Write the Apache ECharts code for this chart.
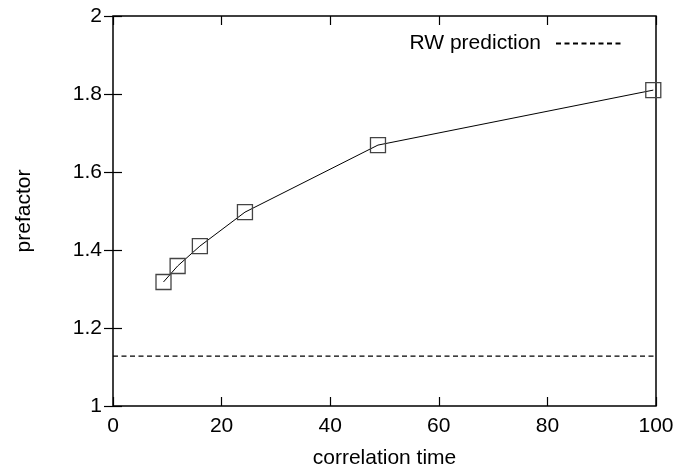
<!DOCTYPE html>
<html>
<head>
<meta charset="utf-8">
<script src="https://cdn.jsdelivr.net/npm/echarts@6/dist/echarts.min.js"></script>
<style>
  html, body { margin: 0; padding: 0; background: #fff; }
  #chart { width: 678px; height: 476px; }
</style>
</head>
<body>
<div id="chart"></div>
<script>
// correlation time vs prefactor
var corrTime = [9.3, 11.9, 16.0, 24.3, 48.8, 99.5];
var prefactor = [1.318, 1.359, 1.41, 1.497, 1.669, 1.81];
var rwPrediction = 1.128;
var xRange = [0, 100];

var font = "Liberation Sans";
var fs = 21;

var measured = corrTime.map(function (t, i) { return [t, prefactor[i]]; });
var rwLine = xRange.map(function (t) { return [t, rwPrediction]; });

var myChart = echarts.init(document.getElementById("chart"));

var baseX = {
  type: "value", min: 0, max: 100, interval: 20,
  axisLine: { show: false },
  axisTick: { inside: true, length: 9, lineStyle: { color: "#000", width: 1.2 } },
  splitLine: { show: false }
};
var baseY = {
  type: "value", min: 1, max: 2, interval: 0.2,
  axisLine: { show: false },
  axisTick: { inside: true, length: 9, lineStyle: { color: "#000", width: 1.2 } },
  splitLine: { show: false }
};

myChart.setOption({
  animation: false,
  grid: {
    left: 113, right: 22, top: 16, bottom: 70,
    show: true, borderColor: "#000", borderWidth: 1.5, backgroundColor: "transparent"
  },
  legend: {
    data: ["RW prediction"],
    right: 48, top: 28,
    align: "right",
    itemWidth: 68, itemHeight: 14,
    itemStyle: { opacity: 0 },
    textStyle: { fontFamily: font, fontSize: fs, color: "#000", padding: [0, 10, 0, 0] }
  },
  xAxis: [
    Object.assign({}, baseX, {
      position: "bottom",
      name: "correlation time", nameLocation: "middle", nameGap: 42,
      nameTextStyle: { fontFamily: font, fontSize: fs, color: "#000" },
      axisLabel: { fontFamily: font, fontSize: fs, color: "#000", margin: 10 }
    }),
    Object.assign({}, baseX, { position: "top", axisLabel: { show: false } })
  ],
  yAxis: [
    Object.assign({}, baseY, {
      position: "left",
      name: "prefactor", nameLocation: "middle", nameGap: 78,
      nameTextStyle: { fontFamily: font, fontSize: fs, color: "#000" },
      axisLabel: {
        fontFamily: font, fontSize: fs, color: "#000", margin: 11,
        formatter: function (v) { return String(Math.round(v * 10) / 10); }
      }
    }),
    Object.assign({}, baseY, { position: "right", axisLabel: { show: false } })
  ],
  series: [
    {
      name: "measured",
      type: "line",
      data: measured,
      symbol: "rect",
      symbolSize: 15,
      itemStyle: { color: "transparent", borderColor: "#444", borderWidth: 1.3 },
      lineStyle: { color: "#000", width: 1 },
      z: 3
    },
    {
      name: "RW prediction",
      type: "line",
      data: rwLine,
      symbol: "none",
      lineStyle: { color: "#000", width: 1.3, type: [5, 3.5] },
      itemStyle: { color: "#000" }
    }
  ]
});
</script>
</body>
</html>
